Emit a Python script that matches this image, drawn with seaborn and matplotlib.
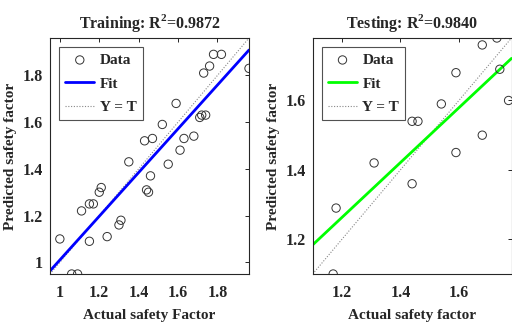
import numpy as np
import pandas as pd
import matplotlib
matplotlib.use("Agg")
import matplotlib.pyplot as plt
import seaborn as sns

# ---- data ----
train_actual = [1.00, 1.06, 1.09, 1.11, 1.15, 1.17, 1.15, 1.20, 1.21, 1.24, 1.30, 1.31,
                1.35, 1.43, 1.44, 1.45, 1.46, 1.47, 1.52, 1.55, 1.59, 1.61, 1.63, 1.68,
                1.71, 1.72, 1.74, 1.73, 1.76, 1.78, 1.82, 1.96]
train_pred = [1.10, 0.95, 0.95, 1.22, 1.25, 1.25, 1.09, 1.30, 1.32, 1.11, 1.16, 1.18,
              1.43, 1.52, 1.31, 1.30, 1.37, 1.53, 1.59, 1.42, 1.68, 1.48, 1.53, 1.54,
              1.62, 1.63, 1.63, 1.81, 1.84, 1.89, 1.89, 1.83]
test_actual = [1.17, 1.18, 1.31, 1.44, 1.44, 1.46, 1.54, 1.59, 1.59, 1.68, 1.68, 1.73,
               1.74, 1.77]
test_pred = [1.10, 1.29, 1.42, 1.36, 1.54, 1.54, 1.59, 1.45, 1.68, 1.50, 1.76, 1.78,
             1.69, 1.60]
titles = ["Training: R$^{\\mathbf{2}}$=0.9872", "Testing: R$^{\\mathbf{2}}$=0.9840"]
xlabels = ["Actual safety Factor", "Actual safety factor"]
ylabel = "Predicted safety factor"
# fitted lines (slope, intercept)
train_fit = (0.936, 0.074)
test_fit = (0.790, 0.315)
train_lim = (0.95, 1.96)
test_lim = (1.10, 1.78)
train_ticks = [1.0, 1.2, 1.4, 1.6, 1.8]
test_ticks = [1.2, 1.4, 1.6]
tick_labels_train = ["1", "1.2", "1.4", "1.6", "1.8"]
tick_labels_test = ["1.2", "1.4", "1.6"]

sns.set_theme(style="white")
plt.rcParams['font.family'] = ['Liberation Serif', 'DejaVu Serif']
plt.rcParams['font.weight'] = 'bold'
plt.rcParams['mathtext.fontset'] = 'custom'
plt.rcParams['mathtext.rm'] = 'Liberation Serif:bold'
plt.rcParams['mathtext.bf'] = 'Liberation Serif:bold'
plt.rcParams['axes.labelweight'] = 'bold'
plt.rcParams['axes.titleweight'] = 'bold'

fig = plt.figure(figsize=(5.12, 3.25), dpi=100)
ax1 = fig.add_axes([50/512, 51/325, 199/512, 236/325])
ax2 = fig.add_axes([312.7/512, 51/325, 198.8/512, 236/325])

panels = [
    (ax1, train_actual, train_pred, train_fit, train_lim, train_ticks, tick_labels_train, "#0000ff", titles[0], xlabels[0]),
    (ax2, test_actual, test_pred, test_fit, test_lim, test_ticks, tick_labels_test, "#00ff00", titles[1], xlabels[1]),
]

for ax, xa, yp, fit, lim, ticks, tlabels, col, title, xl in panels:
    df = pd.DataFrame({"T": xa, "Y": yp})
    sns.scatterplot(data=df, x="T", y="Y", ax=ax, marker="o", s=36,
                    facecolor="none", edgecolor="#333333", linewidth=0.7,
                    label="Data", clip_on=True, zorder=3)
    xs = np.array(lim)
    ax.plot(xs, fit[0] * xs + fit[1], color=col, lw=2.0, label="Fit", zorder=2)
    ax.plot(xs, xs, color="#888888", lw=0.8, ls=(0, (1, 1.5)), label="Y = T", zorder=1)
    ax.set_xlim(lim)
    ax.set_ylim(lim)
    ax.set_xticks(ticks)
    ax.set_yticks(ticks)
    ax.set_xticklabels(tlabels)
    ax.set_yticklabels(tlabels)
    ax.tick_params(direction="in", top=True, right=True, length=3, width=0.7,
                   labelsize=11.5, colors="#262626")
    ax.tick_params(axis="x", pad=8)
    ax.tick_params(axis="y", pad=5)
    for lab in ax.get_xticklabels() + ax.get_yticklabels():
        lab.set_fontweight("bold")
    for sp in ax.spines.values():
        sp.set_color("#262626")
        sp.set_linewidth(0.8)
    ax.set_title(title, fontsize=11.5, fontweight="bold", pad=7)
    ax.set_xlabel(xl, fontsize=11, fontweight="bold", labelpad=6)
    ax.set_ylabel(ylabel, fontsize=11, fontweight="bold", labelpad=4)
    leg = ax.legend(loc="upper left", frameon=True, fancybox=False, fontsize=11,
                    handlelength=1.9, handletextpad=0.35, borderpad=0.4,
                    labelspacing=0.65, borderaxespad=0.6)
    leg.get_frame().set_edgecolor("#262626")
    leg.get_frame().set_linewidth(0.8)
    for t in leg.get_texts():
        t.set_fontweight("bold")

fig.savefig("out.png", dpi=100)
